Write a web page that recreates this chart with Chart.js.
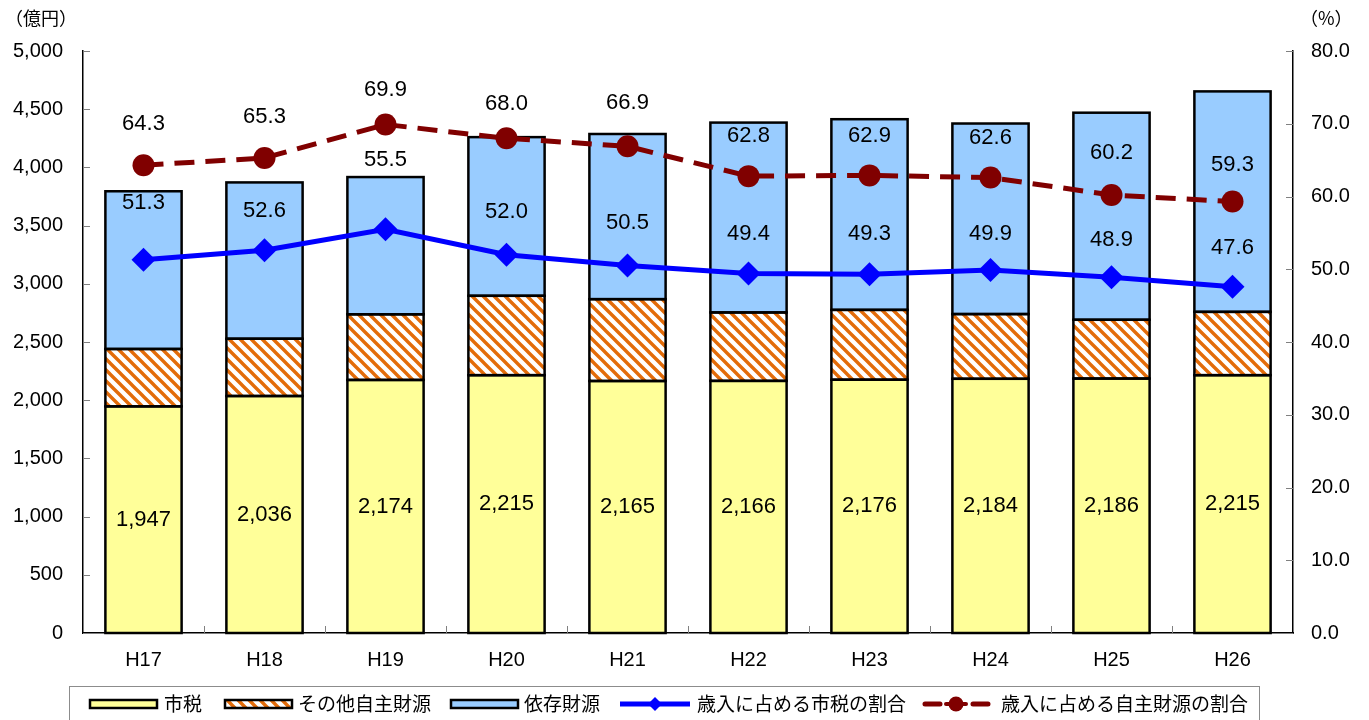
<!DOCTYPE html>
<html>
<head>
<meta charset="utf-8">
<script src="https://cdn.jsdelivr.net/npm/chart.js@4.4.0/dist/chart.umd.min.js"></script>
<style>
  html, body { margin: 0; padding: 0; background: #fff; }
  #wrap { width: 1369px; height: 720px; position: relative; }
</style>
</head>
<body>
<div id="wrap"><canvas id="revChart" width="1369" height="720"></canvas></div>
<script>
// 歳入の内訳（億円）と割合（%）
var years = ["H17", "H18", "H19", "H20", "H21", "H22", "H23", "H24", "H25", "H26"];
var cityTax = [1947, 2036, 2174, 2215, 2165, 2166, 2176, 2184, 2186, 2215];
var otherOwn = [493, 492, 564, 682, 703, 588, 600, 556, 505, 544];
var dependent = [1355, 1343, 1179, 1363, 1419, 1631, 1638, 1637, 1779, 1894];
var taxRatio = [51.3, 52.6, 55.5, 52.0, 50.5, 49.4, 49.3, 49.9, 48.9, 47.6];
var ownRatio = [64.3, 65.3, 69.9, 68.0, 66.9, 62.8, 62.9, 62.6, 60.2, 59.3];

var leftTicks = [0, 500, 1000, 1500, 2000, 2500, 3000, 3500, 4000, 4500, 5000];
var rightTicks = [0, 10, 20, 30, 40, 50, 60, 70, 80];

var numFont = "'Liberation Sans', Arial, sans-serif";
var jpFont = "'Noto Sans CJK JP', sans-serif";

var YELLOW = "#FFFF99";
var BLUE_FILL = "#99CCFF";
var ORANGE = "#E36C0A";
var LINE_BLUE = "#0000FF";
var LINE_RED = "#800000";

// orange diagonal stripes on white
function makeHatch() {
  var c = document.createElement("canvas");
  c.width = 11; c.height = 11;
  var g = c.getContext("2d");
  g.fillStyle = "#fff";
  g.fillRect(0, 0, 11, 11);
  g.strokeStyle = ORANGE;
  g.lineWidth = 3.4;
  g.beginPath();
  g.moveTo(-3, -3); g.lineTo(14, 14);
  g.moveTo(-14, -3); g.lineTo(3, 14);
  g.moveTo(8, -3); g.lineTo(25, 14);
  g.stroke();
  return g.createPattern(c, "repeat");
}
var hatch = makeHatch();

// how far above each point its percentage sits
var taxLift = [57, 39, 69, 43, 43, 40, 40, 36, 37, 39];
var ownLift = [41, 41, 35, 34, 43, 40, 39, 40, 42, 37];

function fmt(n) {
  return n.toString().replace(/\B(?=(\d{3})+(?!\d))/g, ",");
}

// black outlines round every bar segment, drawn once all bars are filled
var outlinePlugin = {
  id: "barOutlines",
  beforeDatasetDraw: function(chart, args) {
    if (args.index !== 3) return;
    var ctx = chart.ctx;
    ctx.save();
    ctx.strokeStyle = "#000";
    ctx.lineWidth = 2.5;
    [0, 1, 2].forEach(function(d) {
      chart.getDatasetMeta(d).data.forEach(function(el) {
        var half = el.width / 2;
        var top = Math.min(el.y, el.base), bot = Math.max(el.y, el.base);
        ctx.strokeRect(el.x - half, top, el.width, bot - top);
      });
    });
    ctx.restore();
  }
};

var labelsPlugin = {
  id: "valueLabels",
  afterDatasetsDraw: function(chart) {
    var ctx = chart.ctx;
    ctx.save();
    ctx.fillStyle = "#000";
    ctx.textAlign = "center";
    ctx.textBaseline = "middle";
    ctx.font = "22px " + numFont;

    chart.getDatasetMeta(0).data.forEach(function(el, i) {
      ctx.fillText(fmt(cityTax[i]), el.x, (el.y + el.base) / 2);
    });
    chart.getDatasetMeta(3).data.forEach(function(el, i) {
      ctx.fillText(taxRatio[i].toFixed(1), el.x, el.y - taxLift[i]);
    });
    chart.getDatasetMeta(4).data.forEach(function(el, i) {
      ctx.fillText(ownRatio[i].toFixed(1), el.x, el.y - ownLift[i]);
    });
    ctx.restore();
  }
};

// short tick marks pointing into the plot, plus unit captions
var axisPlugin = {
  id: "innerTicks",
  afterDraw: function(chart) {
    var ctx = chart.ctx;
    var a = chart.chartArea;
    var yL = chart.scales.y, yR = chart.scales.y1;
    ctx.save();
    ctx.strokeStyle = "#808080";
    ctx.lineWidth = 1;
    ctx.beginPath();
    leftTicks.forEach(function(v) {
      var py = Math.round(yL.getPixelForValue(v)) + 0.5;
      ctx.moveTo(a.left, py); ctx.lineTo(a.left + 7, py);
    });
    rightTicks.forEach(function(v) {
      var py = Math.round(yR.getPixelForValue(v)) + 0.5;
      ctx.moveTo(a.right - 7, py); ctx.lineTo(a.right, py);
    });
    var step = (a.right - a.left) / years.length;
    for (var i = 1; i < years.length; i++) {
      var px = Math.round(a.left + step * i) + 0.5;
      ctx.moveTo(px, a.bottom); ctx.lineTo(px, a.bottom - 7);
    }
    ctx.stroke();

    ctx.fillStyle = "#000";
    ctx.font = "18px " + jpFont;
    ctx.textBaseline = "middle";
    ctx.textAlign = "left";
    ctx.fillText("（億円）", 5, 18);
    ctx.fillText("（%）", 1300, 18);
    ctx.restore();
  }
};

var legendPlugin = {
  id: "bottomLegend",
  afterDraw: function(chart) {
    var ctx = chart.ctx;
    ctx.save();
    ctx.strokeStyle = "#8c8c8c";
    ctx.lineWidth = 1;
    ctx.strokeRect(69.5, 686.5, 1190, 40);

    var cy = 704;
    function swatch(x, fill) {
      ctx.fillStyle = fill;
      ctx.fillRect(x, cy - 4, 67, 8);
      ctx.strokeStyle = "#000";
      ctx.lineWidth = 2.5;
      ctx.strokeRect(x, cy - 4, 67, 8);
    }
    swatch(90, YELLOW);
    swatch(225, hatch);
    swatch(451, BLUE_FILL);

    // 市税の割合
    ctx.strokeStyle = LINE_BLUE;
    ctx.lineWidth = 5;
    ctx.beginPath(); ctx.moveTo(620, cy); ctx.lineTo(690, cy); ctx.stroke();
    ctx.fillStyle = LINE_BLUE;
    ctx.beginPath();
    ctx.moveTo(655, cy - 7); ctx.lineTo(662, cy); ctx.lineTo(655, cy + 7); ctx.lineTo(648, cy);
    ctx.closePath(); ctx.fill();

    // 自主財源の割合
    ctx.strokeStyle = LINE_RED;
    ctx.lineCap = "round";
    ctx.beginPath();
    ctx.moveTo(925, cy); ctx.lineTo(940, cy);
    ctx.moveTo(973, cy); ctx.lineTo(988, cy);
    ctx.stroke();
    ctx.fillStyle = LINE_RED;
    ctx.beginPath(); ctx.arc(956, cy, 7.5, 0, Math.PI * 2); ctx.fill();
    ctx.lineWidth = 4;
    ctx.beginPath(); ctx.moveTo(946, cy); ctx.lineTo(966, cy); ctx.stroke();

    ctx.fillStyle = "#000";
    ctx.font = "19px " + jpFont;
    ctx.textBaseline = "middle";
    ctx.textAlign = "left";
    ctx.fillText("市税", 164, cy);
    ctx.fillText("その他自主財源", 298, cy);
    ctx.fillText("依存財源", 524, cy);
    ctx.fillText("歳入に占める市税の割合", 697, cy);
    ctx.fillText("歳入に占める自主財源の割合", 1001, cy);
    ctx.restore();
  }
};

var barBase = {
  type: "bar",
  yAxisID: "y",
  stack: "rev",
  borderWidth: 0,
  inflateAmount: 0,
  barPercentage: 0.63,
  categoryPercentage: 1,
  order: 2
};

var ctx = document.getElementById("revChart").getContext("2d");
var revChart = new Chart(ctx, {
  data: {
    labels: years,
    datasets: [
      Object.assign({}, barBase, { label: "市税", data: cityTax, backgroundColor: YELLOW }),
      Object.assign({}, barBase, { label: "その他自主財源", data: otherOwn, backgroundColor: hatch }),
      Object.assign({}, barBase, { label: "依存財源", data: dependent, backgroundColor: BLUE_FILL }),
      {
        type: "line",
        label: "歳入に占める市税の割合",
        data: taxRatio,
        yAxisID: "y1",
        borderColor: LINE_BLUE,
        backgroundColor: LINE_BLUE,
        borderWidth: 5,
        pointStyle: "rectRot",
        pointRadius: 12,
        pointBorderWidth: 0,
        fill: false,
        order: 1
      },
      {
        type: "line",
        label: "歳入に占める自主財源の割合",
        data: ownRatio,
        yAxisID: "y1",
        borderColor: LINE_RED,
        backgroundColor: LINE_RED,
        borderWidth: 5,
        borderDash: [20, 11],
        pointStyle: "circle",
        pointRadius: 11,
        pointBorderWidth: 0,
        fill: false,
        order: 0
      }
    ]
  },
  options: {
    responsive: false,
    animation: false,
    layout: { padding: { top: 51, bottom: 50, left: 0, right: 0 } },
    plugins: {
      legend: { display: false },
      tooltip: { enabled: false }
    },
    scales: {
      x: {
        stacked: true,
        grid: { display: false, drawTicks: false },
        border: { display: true, color: "#000", width: 1.5 },
        ticks: { color: "#000", font: { family: numFont, size: 20 }, padding: 15 },
        afterFit: function(s) { s.height = 37; }
      },
      y: {
        position: "left",
        stacked: true,
        min: 0,
        max: 5000,
        afterBuildTicks: function(s) { s.ticks = leftTicks.map(function(v) { return { value: v }; }); },
        grid: { display: false, drawTicks: false },
        border: { display: true, color: "#000", width: 1.5 },
        ticks: {
          color: "#000",
          font: { family: numFont, size: 20 },
          padding: 20,
          callback: function(v) { return fmt(v); }
        },
        afterFit: function(s) { s.width = 83; }
      },
      y1: {
        position: "right",
        min: 0,
        max: 80,
        afterBuildTicks: function(s) { s.ticks = rightTicks.map(function(v) { return { value: v }; }); },
        grid: { display: false, drawTicks: false },
        border: { display: true, color: "#000", width: 1.5 },
        ticks: {
          color: "#000",
          font: { family: numFont, size: 20 },
          padding: 18,
          callback: function(v) { return v.toFixed(1); }
        },
        afterFit: function(s) { s.width = 76; }
      }
    }
  },
  plugins: [outlinePlugin, labelsPlugin, axisPlugin, legendPlugin]
});
</script>
</body>
</html>
